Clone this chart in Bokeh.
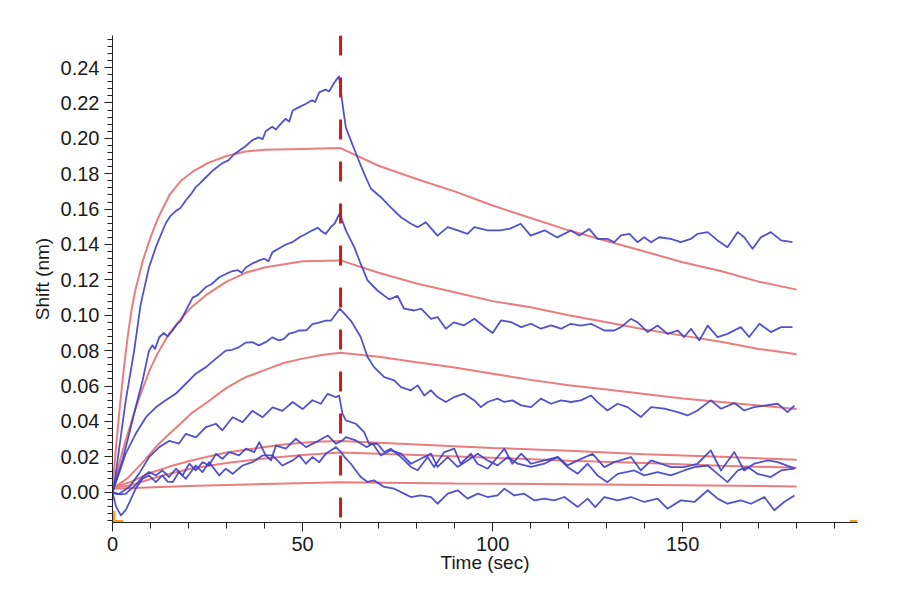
from bokeh.plotting import figure
from bokeh.models import Span, SingleIntervalTicker, PrintfTickFormatter, Range1d
from bokeh.embed import file_html
from bokeh.resources import INLINE

# ---------------- data (time sec, shift nm) ----------------
switch_time = 60  # association -> dissociation

b1 = [(0, 0.000), (0.4, 0.003), (1.7, 0.024), (3.5, 0.052), (5.7, 0.080), (7.4, 0.106), (9.6, 0.127),
      (11.4, 0.1385), (14.0, 0.152), (15.2, 0.156), (16.7, 0.159), (17.8, 0.1605), (18.5, 0.1625),
      (19.3, 0.165), (20.5, 0.168), (21.9, 0.1724), (23.0, 0.1745), (24.6, 0.178), (26.5, 0.182),
      (28.9, 0.186), (30.5, 0.1875), (32.0, 0.191), (33.3, 0.193), (35.0, 0.1955), (36.8, 0.199),
      (38.5, 0.2005), (39.5, 0.1995), (40.3, 0.204), (42.0, 0.2065), (43.0, 0.205), (43.8, 0.207),
      (45.5, 0.211), (46.5, 0.2095), (47.4, 0.2157), (49.0, 0.2175), (50.9, 0.2195), (52.5, 0.2215),
      (53.3, 0.2205), (54.4, 0.226), (56.0, 0.2275), (57.0, 0.2265), (58.5, 0.232), (59.6, 0.2350),
      (60.5, 0.2195), (61.4, 0.206), (62.7, 0.1988), (64.5, 0.189), (66.2, 0.180), (68.0, 0.1715),
      (70.6, 0.1667), (73.2, 0.161), (75.9, 0.1554), (78.5, 0.1517), (80.3, 0.1498), (82.4, 0.1526),
      (85.5, 0.145), (88.2, 0.1498), (90.8, 0.148), (93.4, 0.146), (95.2, 0.1498), (98.7, 0.148),
      (102.0, 0.148), (104.6, 0.149), (107.4, 0.1517), (110.0, 0.145), (113.7, 0.148), (117.0, 0.144),
      (120.6, 0.1479), (122.8, 0.1451), (125.4, 0.1488), (127.6, 0.1432), (130.2, 0.1432),
      (132.0, 0.1413), (133.8, 0.1451), (136.0, 0.146), (138.1, 0.1413), (139.9, 0.1441),
      (141.7, 0.1413), (143.8, 0.1441), (146.9, 0.1432), (149.5, 0.1413), (152.2, 0.1432),
      (153.9, 0.146), (156.6, 0.147), (159.2, 0.1423), (161.8, 0.1385), (164.5, 0.147),
      (166.2, 0.1441), (168.4, 0.1376), (170.6, 0.1441), (173.2, 0.147), (175.9, 0.1423), (178.9, 0.1413)]

b2 = [(0, 0.000), (0.9, 0.0067), (2.6, 0.018), (4.4, 0.033), (6.1, 0.048), (7.9, 0.063), (9.6, 0.080),
      (10.5, 0.083), (11.2, 0.081), (12.3, 0.0876), (13.5, 0.090), (14.5, 0.088), (15.8, 0.0914),
      (17.0, 0.095), (18.0, 0.097), (18.9, 0.101), (21.1, 0.110), (22.5, 0.1115), (24.6, 0.116),
      (26.0, 0.1175), (28.1, 0.1215), (30.0, 0.1235), (31.6, 0.125), (33.0, 0.1255), (34.0, 0.124),
      (35.1, 0.127), (37.0, 0.1295), (38.6, 0.131), (40.0, 0.132), (41.0, 0.1305), (42.1, 0.1357),
      (44.0, 0.138), (45.6, 0.140), (47.5, 0.1415), (49.1, 0.144), (50.5, 0.1455), (52.6, 0.148),
      (54.0, 0.1495), (55.0, 0.1475), (56.1, 0.146), (57.5, 0.150), (58.5, 0.152), (59.6, 0.157),
      (60.2, 0.155), (61.4, 0.148), (63.6, 0.1385), (65.3, 0.129), (67.1, 0.1197), (69.7, 0.114),
      (72.8, 0.109), (75.0, 0.111), (76.7, 0.1037), (79.4, 0.1027), (81.2, 0.1037), (83.8, 0.098),
      (85.5, 0.099), (87.7, 0.0924), (89.8, 0.096), (92.5, 0.0943), (95.2, 0.098), (97.8, 0.0935),
      (100.0, 0.0900), (102.2, 0.0971), (104.8, 0.0962), (107.5, 0.0933), (110.1, 0.0952),
      (112.7, 0.0924), (115.4, 0.0943), (118.0, 0.0924), (120.6, 0.0952), (123.2, 0.0942),
      (125.9, 0.0952), (129.4, 0.0914), (132.0, 0.0914), (133.8, 0.0933), (136.4, 0.098),
      (138.1, 0.0961), (140.8, 0.0905), (143.4, 0.0942), (146.0, 0.0895), (148.7, 0.0914),
      (150.4, 0.0877), (152.2, 0.0924), (154.4, 0.0858), (156.6, 0.0942), (159.2, 0.0877),
      (161.8, 0.0895), (165.3, 0.0933), (167.5, 0.0877), (170.2, 0.0952), (173.2, 0.0905),
      (175.9, 0.0933), (178.9, 0.0933)]

b3 = [(0, 0.000), (1.7, 0.0106), (3.5, 0.022), (6.1, 0.033), (8.8, 0.0424), (11.4, 0.048), (14.0, 0.052),
      (16.7, 0.0558), (19.3, 0.0613), (21.9, 0.067), (24.6, 0.0707), (27.2, 0.0755), (29.8, 0.080),
      (31.5, 0.0805), (33.3, 0.082), (35.0, 0.0845), (36.8, 0.0848), (38.5, 0.083), (40.3, 0.0848),
      (42.0, 0.0875), (43.8, 0.0858), (45.0, 0.0865), (46.5, 0.0897), (48.0, 0.0905), (49.1, 0.0914),
      (51.0, 0.0915), (52.6, 0.095), (54.5, 0.096), (56.1, 0.097), (57.5, 0.097), (59.8, 0.1037),
      (62.7, 0.097), (65.3, 0.0877), (67.1, 0.0764), (68.8, 0.0707), (71.5, 0.0651), (74.1, 0.0632),
      (75.9, 0.0594), (78.5, 0.0576), (80.3, 0.0604), (82.0, 0.0547), (83.8, 0.0576), (85.5, 0.0538),
      (87.7, 0.051), (89.9, 0.0538), (92.5, 0.0557), (95.2, 0.0519), (96.9, 0.0481), (98.7, 0.051),
      (101.3, 0.0529), (103.1, 0.051), (105.2, 0.0519), (107.5, 0.0491), (110.1, 0.0481),
      (112.7, 0.0529), (115.4, 0.05), (118.0, 0.0519), (120.6, 0.051), (123.2, 0.0519),
      (125.9, 0.0547), (127.6, 0.0509), (130.2, 0.0462), (132.9, 0.05), (135.5, 0.0481),
      (139.0, 0.0425), (141.7, 0.0481), (145.2, 0.0472), (148.7, 0.0453), (151.3, 0.0434),
      (153.9, 0.0462), (157.4, 0.0519), (160.1, 0.0472), (163.6, 0.0504), (166.2, 0.0462),
      (168.8, 0.0481), (171.5, 0.049), (175.0, 0.05), (177.6, 0.0453), (179.4, 0.049)]

b4 = [(0, 0.000), (1.7, -0.001), (4.4, 0.003), (7.0, 0.0105), (9.6, 0.0198), (12.3, 0.0255),
      (14.9, 0.029), (17.5, 0.0275), (19.3, 0.033), (21.9, 0.031), (24.6, 0.0368), (27.2, 0.0387),
      (28.9, 0.035), (31.6, 0.0424), (34.2, 0.0396), (36.8, 0.046), (39.5, 0.0424), (42.1, 0.048),
      (44.7, 0.046), (47.4, 0.051), (50.0, 0.047), (52.6, 0.052), (54.8, 0.050), (56.6, 0.0556),
      (58.8, 0.0537), (59.6, 0.0547), (60.5, 0.0444), (61.4, 0.0406), (64.0, 0.0387), (66.2, 0.034),
      (67.5, 0.0274), (69.7, 0.0274), (71.5, 0.0227), (73.2, 0.0246), (75.9, 0.0199), (78.5, 0.0143),
      (80.3, 0.0124), (82.9, 0.0199), (84.6, 0.0143), (87.3, 0.0227), (89.9, 0.0246), (91.6, 0.0161),
      (94.3, 0.0218), (96.0, 0.0161), (98.7, 0.0133), (101.3, 0.0199), (103.1, 0.0246),
      (105.2, 0.0161), (107.5, 0.0218), (110.1, 0.0161), (113.6, 0.018), (117.1, 0.0199),
      (119.7, 0.0152), (122.4, 0.018), (126.3, 0.0217), (129.4, 0.0142), (132.0, 0.017),
      (136.4, 0.0199), (139.0, 0.0123), (141.7, 0.018), (144.3, 0.0161), (146.9, 0.0142),
      (150.4, 0.0142), (153.9, 0.0161), (157.4, 0.0236), (160.1, 0.0123), (163.6, 0.0227),
      (166.2, 0.0123), (168.8, 0.0161), (172.4, 0.018), (175.0, 0.017), (178.5, 0.0142), (179.5, 0.0135)]

b5 = [(0, 0.000), (0.9, -0.0009), (2.2, -0.0012), (3.5, -0.0009), (4.4, 0.001), (6.1, 0.004),
      (7.9, 0.0086), (9.6, 0.0114), (11.4, 0.0095), (13.1, 0.0123), (14.9, 0.0086), (16.7, 0.0133),
      (18.4, 0.0095), (20.2, 0.0161), (21.9, 0.0123), (23.7, 0.017), (25.4, 0.0151), (27.2, 0.0217),
      (28.9, 0.0189), (30.7, 0.0227), (33.3, 0.0208), (35.1, 0.0246), (37.3, 0.0227), (38.6, 0.0283),
      (40.3, 0.0208), (41.7, 0.018), (43.0, 0.0264), (45.6, 0.0246), (48.2, 0.0302), (50.9, 0.0255),
      (53.5, 0.0283), (56.6, 0.0321), (58.8, 0.0274), (60.5, 0.0293), (61.4, 0.0312), (64.0, 0.0293),
      (66.8, 0.0255), (68.5, 0.0274), (70.6, 0.0208), (73.2, 0.0237), (75.9, 0.0218), (78.5, 0.0161),
      (81.1, 0.0189), (83.8, 0.0218), (85.5, 0.0143), (88.2, 0.0199), (90.8, 0.0143), (93.4, 0.018),
      (96.1, 0.0218), (98.7, 0.018), (101.3, 0.0152), (104.0, 0.0199), (106.6, 0.0161),
      (110.1, 0.0143), (113.6, 0.0161), (117.1, 0.0199), (119.7, 0.0143), (122.4, 0.0105),
      (125.0, 0.0161), (127.6, 0.0095), (130.2, 0.0057), (132.9, 0.0104), (137.3, 0.0123),
      (139.9, 0.0095), (143.4, 0.0114), (146.9, 0.0095), (150.4, 0.0123), (153.1, 0.0142),
      (156.6, 0.0151), (159.2, 0.0104), (161.8, 0.0057), (164.5, 0.0123), (167.1, 0.0142),
      (169.7, 0.0104), (173.2, 0.0086), (175.9, 0.0123), (179.4, 0.0133)]

b6 = [(0, 0.000), (0.9, -0.008), (2.2, -0.0131), (3.5, -0.010), (4.4, -0.006), (6.1, 0.002),
      (7.9, 0.0076), (9.6, 0.0095), (11.4, 0.0057), (13.1, 0.0095), (14.5, 0.006), (15.8, 0.0057),
      (17.5, 0.0114), (19.3, 0.0076), (21.9, 0.0151), (23.7, 0.0114), (25.4, 0.017), (28.1, 0.0095),
      (29.8, 0.0133), (31.6, 0.0104), (34.2, 0.0151), (36.8, 0.017), (39.5, 0.0208), (42.1, 0.0208),
      (44.7, 0.0151), (47.4, 0.018), (49.1, 0.0208), (50.9, 0.0161), (52.6, 0.0199), (54.4, 0.017),
      (56.1, 0.0217), (58.8, 0.0255), (60.1, 0.0227), (61.0, 0.020), (62.7, 0.0161), (65.3, 0.0086),
      (67.1, 0.0058), (68.8, 0.0067), (71.5, 0.003), (74.1, 0.002), (76.7, -0.0008), (78.5, -0.0027),
      (81.1, -0.0018), (83.8, -0.0027), (85.5, -0.0065), (88.2, -0.0008), (90.8, 0.0011),
      (93.4, -0.0036), (96.1, -0.0008), (98.7, -0.0027), (101.3, -0.0018), (103.1, 0.002),
      (105.7, -0.0018), (108.3, -0.0008), (111.0, -0.0046), (113.6, -0.0036), (116.2, -0.0046),
      (118.9, -0.0027), (122.4, -0.0083), (125.0, -0.0036), (127.0, -0.0084), (129.4, -0.0027),
      (132.9, -0.0046), (136.4, -0.0027), (139.9, -0.0055), (143.4, -0.0036), (146.0, -0.0093),
      (149.5, -0.0046), (153.1, -0.0055), (156.6, 0.0011), (159.2, -0.0036), (161.8, -0.0065),
      (165.3, -0.0046), (168.0, -0.0065), (171.5, -0.0027), (174.1, -0.0102), (176.7, -0.0055),
      (179.4, -0.0018)]

# fitted curves (1:1 model fits)
r1 = [(0, 0.002), (1, 0.027), (2, 0.050), (3, 0.070), (4, 0.088), (5, 0.103), (6, 0.114), (8, 0.131),
      (10, 0.144), (12, 0.155), (15, 0.168), (18, 0.176), (21, 0.181), (25, 0.186), (30, 0.190),
      (35, 0.1925), (40, 0.1935), (50, 0.194), (60, 0.1945), (70, 0.1845), (80, 0.177), (90, 0.170),
      (100, 0.162), (110, 0.155), (120, 0.148), (130, 0.142), (140, 0.136), (150, 0.130), (160, 0.125),
      (170, 0.119), (180, 0.1145)]
r2 = [(0, 0.002), (1, 0.010), (2, 0.018), (3, 0.026), (4, 0.033), (5, 0.040), (6, 0.047), (8, 0.059),
      (10, 0.070), (12, 0.079), (15, 0.090), (18, 0.098), (21, 0.105), (25, 0.112), (30, 0.119),
      (35, 0.124), (40, 0.127), (50, 0.1305), (60, 0.131), (70, 0.124), (80, 0.118), (90, 0.113),
      (100, 0.108), (110, 0.1045), (120, 0.100), (130, 0.096), (140, 0.092), (150, 0.0885),
      (160, 0.085), (170, 0.081), (180, 0.078)]
r3 = [(0, 0.002), (2, 0.005), (4, 0.008), (6, 0.0125), (8, 0.017), (10, 0.022), (12, 0.027), (15, 0.033),
      (18, 0.039), (21, 0.045), (25, 0.051), (30, 0.059), (35, 0.065), (40, 0.069), (45, 0.073),
      (50, 0.0755), (55, 0.0775), (60, 0.0788), (70, 0.0765), (80, 0.0735), (90, 0.0705),
      (100, 0.067), (110, 0.0635), (120, 0.0605), (130, 0.058), (140, 0.0555), (150, 0.053),
      (160, 0.051), (170, 0.049), (180, 0.047)]
r4 = [(0, 0.0025), (5, 0.006), (10, 0.011), (15, 0.0145), (20, 0.0175), (25, 0.020), (30, 0.0225),
      (35, 0.024), (40, 0.0255), (45, 0.027), (50, 0.028), (55, 0.0287), (60, 0.029), (80, 0.027),
      (100, 0.025), (120, 0.0235), (140, 0.0215), (160, 0.020), (180, 0.0183)]
r5 = [(0, 0.0025), (5, 0.004), (10, 0.0075), (15, 0.0105), (20, 0.013), (25, 0.0148), (30, 0.0165),
      (40, 0.019), (50, 0.021), (60, 0.0225), (80, 0.021), (100, 0.0195), (120, 0.0178),
      (140, 0.0165), (160, 0.015), (180, 0.0138)]
r6 = [(0, 0.002), (20, 0.0035), (40, 0.0047), (60, 0.0057), (90, 0.005), (120, 0.0045),
      (150, 0.0039), (180, 0.0033)]

measured = [b1, b2, b3, b4, b5, b6]
fits = [r1, r2, r3, r4, r5, r6]

x_label = "Time (sec)"
y_label = "Shift (nm)"

# ---------------- figure ----------------
FONT = "Liberation Sans"
p = figure(width=880, height=580, x_range=Range1d(0, 196), y_range=Range1d(-0.0171, 0.2581),
           output_backend="svg", toolbar_location=None,
           min_border_left=112, min_border_top=35, min_border_right=23, min_border_bottom=58)
p.outline_line_color = None
p.xgrid.visible = False
p.ygrid.visible = False
p.background_fill_color = "white"
p.border_fill_color = "white"

for s in fits:
    p.line([t for t, _ in s], [v for _, v in s], line_color="#ea7d7d", line_width=2)
for s in measured:
    p.line([t for t, _ in s], [v for _, v in s], line_color="#3f3fc6", line_width=1.8,
           line_alpha=0.9, line_join="round")

p.add_layout(Span(location=switch_time, dimension="height", line_color="#d01818",
                  line_width=3, line_dash="20 22"))

# small orange range handles
p.segment(x0=[0.4, 0.0, 194.0], y0=[-0.0171, -0.0165, -0.0165],
          x1=[0.4, 2.8, 196.0], y1=[-0.0105, -0.0165, -0.0165],
          line_color="#f0a020", line_width=3)

p.xaxis.ticker = SingleIntervalTicker(interval=50, num_minor_ticks=5)
p.yaxis.ticker = SingleIntervalTicker(interval=0.02, num_minor_ticks=5)
p.yaxis.formatter = PrintfTickFormatter(format="%.2f")
p.xaxis.axis_label = x_label
p.yaxis.axis_label = y_label

for ax in (p.xaxis[0], p.yaxis[0]):
    ax.axis_line_color = "#222222"
    ax.major_tick_line_color = "#222222"
    ax.minor_tick_line_color = "#222222"
    ax.major_tick_in = 0
    ax.minor_tick_in = 0
    ax.major_label_text_font = FONT
    ax.major_label_text_font_size = "20px"
    ax.major_label_text_color = "#1a1a1a"
    ax.axis_label_text_font = FONT
    ax.axis_label_text_font_size = "19px"
    ax.axis_label_text_font_style = "normal"
    ax.axis_label_text_color = "#1a1a1a"

p.xaxis.major_tick_out = 9
p.xaxis.minor_tick_out = 6
p.xaxis.major_label_standoff = 5
p.xaxis.axis_label_standoff = -2
p.yaxis.major_tick_out = 8
p.yaxis.minor_tick_out = 5
p.yaxis.major_label_standoff = 5
p.yaxis.axis_label_standoff = 5

open("out.html", "w").write(file_html(p, INLINE))
